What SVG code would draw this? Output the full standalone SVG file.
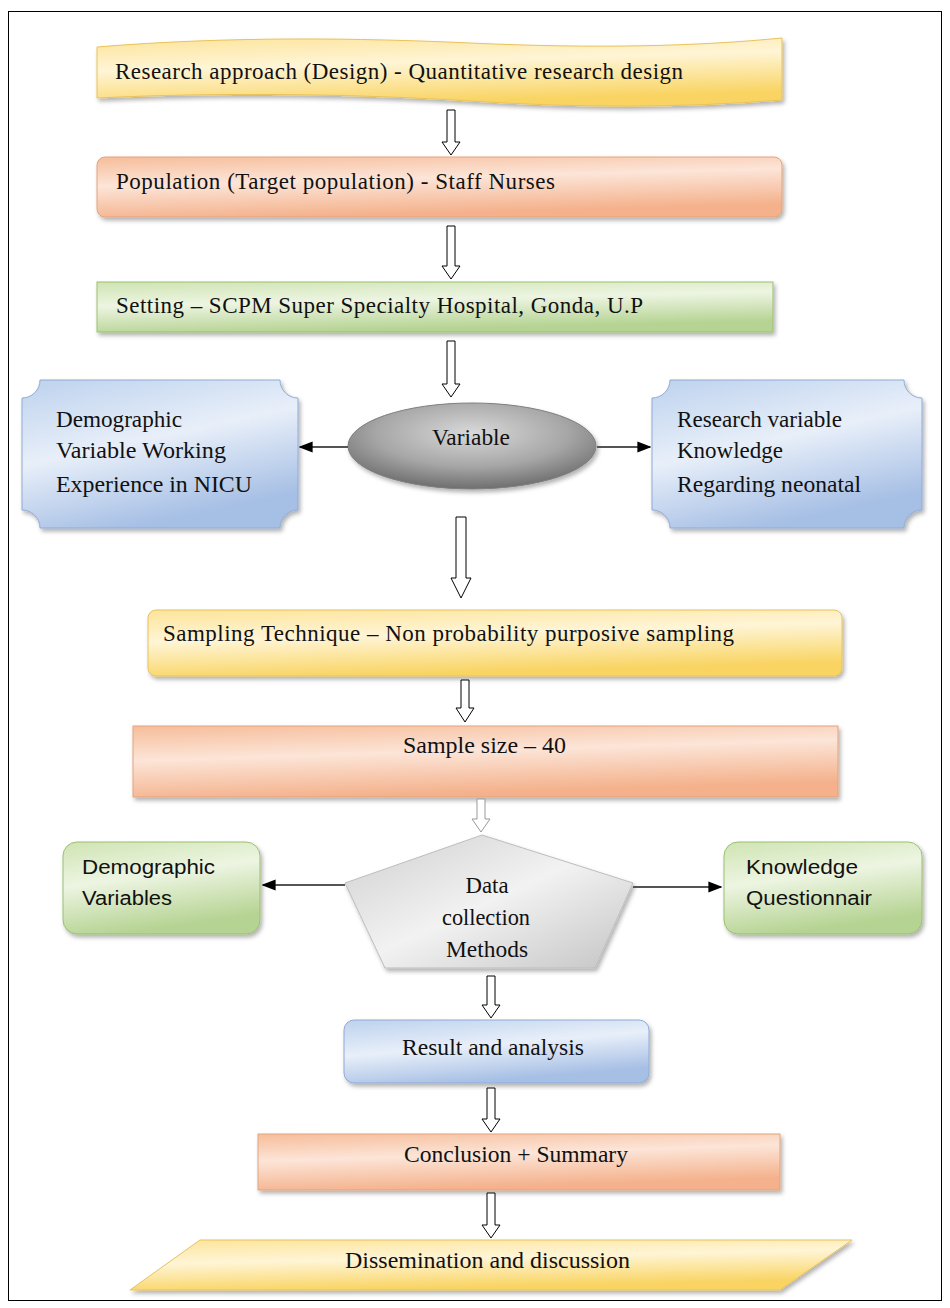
<svg xmlns="http://www.w3.org/2000/svg" width="950" height="1308" viewBox="0 0 950 1308">
<defs>
  <linearGradient id="gYel" x1="0" y1="0" x2="0.3" y2="1">
    <stop offset="0" stop-color="#fde49a"/>
    <stop offset="0.45" stop-color="#fff5d6"/>
    <stop offset="1" stop-color="#f9d462"/>
  </linearGradient>
  <linearGradient id="gOr" x1="0" y1="0" x2="0.3" y2="1">
    <stop offset="0" stop-color="#f6bd9a"/>
    <stop offset="0.45" stop-color="#fce5d8"/>
    <stop offset="1" stop-color="#f4b18b"/>
  </linearGradient>
  <linearGradient id="gGr" x1="0" y1="0" x2="0.3" y2="1">
    <stop offset="0" stop-color="#cfe4b3"/>
    <stop offset="0.45" stop-color="#edf5e2"/>
    <stop offset="1" stop-color="#b5d392"/>
  </linearGradient>
  <linearGradient id="gBl" x1="0" y1="0" x2="0.4" y2="1">
    <stop offset="0" stop-color="#bdd2ee"/>
    <stop offset="0.5" stop-color="#e8eff9"/>
    <stop offset="1" stop-color="#a6bfe5"/>
  </linearGradient>
  <radialGradient id="gEll" cx="0.5" cy="0.35" r="0.65">
    <stop offset="0" stop-color="#d9d9d9"/>
    <stop offset="0.6" stop-color="#a6a6a6"/>
    <stop offset="1" stop-color="#6e6e6e"/>
  </radialGradient>
  <linearGradient id="gPent" x1="0" y1="0" x2="1" y2="1">
    <stop offset="0" stop-color="#cfcfcf"/>
    <stop offset="0.5" stop-color="#f2f2f2"/>
    <stop offset="1" stop-color="#c4c4c4"/>
  </linearGradient>
  <filter id="sh" x="-10%" y="-20%" width="120%" height="150%">
    <feDropShadow dx="2" dy="3" stdDeviation="2" flood-color="#000" flood-opacity="0.3"/>
  </filter>
  <marker id="ah" viewBox="0 0 10 10" refX="9" refY="5" markerWidth="7" markerHeight="7" orient="auto">
    <path d="M0,1 L10,5 L0,9 Z" fill="#000"/>
  </marker>
</defs>
<style>
  .t { font-family: "Liberation Serif", "Times New Roman", serif; font-size: 23px; fill: #111; }
  .s { font-family: "Liberation Sans", Arial, sans-serif; font-size: 20px; fill: #111; }
  .blk { fill: #fff; stroke: #000; stroke-width: 1; }
  .blk2 { fill: #fff; stroke: #999; stroke-width: 1; }
  .ln { stroke: #555; stroke-width: 2; fill: none; marker-end: url(#ah); }
  .edge-gr { stroke: #9bbf6e; stroke-width: 1; }
  .edge-or { stroke: #e3a37c; stroke-width: 1; }
  .edge-ye { stroke: #e8c25a; stroke-width: 1; }
  .edge-bl { stroke: #8faad6; stroke-width: 1; }
</style>
<rect x="0" y="0" width="950" height="1308" fill="#fff"/>
<rect x="8.5" y="11.5" width="933" height="1289" fill="none" stroke="#000" stroke-width="1"/>

<g id="n1">
  <path d="M97,47 C230,36 360,38 470,43 C600,49 700,46 782,38 L782,100 C680,108 580,108 470,101 C360,94 220,92 97,98 Z" fill="url(#gYel)" class="edge-ye" filter="url(#sh)"/>
  <text class="t" x="115" y="79" textLength="568" lengthAdjust="spacing">Research approach (Design) - Quantitative research design</text>
</g>
<g id="n2">
  <rect x="97" y="157" width="685" height="60" rx="8" fill="url(#gOr)" class="edge-or" filter="url(#sh)"/>
  <text class="t" x="116" y="189" textLength="439" lengthAdjust="spacing">Population (Target population) - Staff Nurses</text>
</g>
<g id="n3">
  <rect x="97" y="282" width="676" height="50" fill="url(#gGr)" class="edge-gr" filter="url(#sh)"/>
  <text class="t" x="116" y="313" textLength="527" lengthAdjust="spacing">Setting – SCPM Super Specialty Hospital, Gonda, U.P</text>
</g>
<g id="n4">
  <ellipse cx="472" cy="446" rx="124" ry="43" fill="url(#gEll)" stroke="#7f7f7f" stroke-width="1" filter="url(#sh)"/>
  <text class="t" x="471" y="445" text-anchor="middle" textLength="78" lengthAdjust="spacingAndGlyphs">Variable</text>
</g>
<g id="n5">
  <path d="M40,380 H280 A18,18 0 0 0 298,398 V510 A18,18 0 0 0 280,528 H40 A18,18 0 0 0 22,510 V398 A18,18 0 0 0 40,380 Z" fill="url(#gBl)" class="edge-bl" filter="url(#sh)"/>
  <text class="t" x="56" y="427" textLength="126" lengthAdjust="spacingAndGlyphs">Demographic</text>
  <text class="t" x="56" y="458" textLength="170" lengthAdjust="spacingAndGlyphs">Variable Working</text>
  <text class="t" x="56" y="492" textLength="196" lengthAdjust="spacingAndGlyphs">Experience in NICU</text>
</g>
<g id="n6">
  <path d="M670,380 H904 A18,18 0 0 0 922,398 V510 A18,18 0 0 0 904,528 H670 A18,18 0 0 0 652,510 V398 A18,18 0 0 0 670,380 Z" fill="url(#gBl)" class="edge-bl" filter="url(#sh)"/>
  <text class="t" x="677" y="427" textLength="165" lengthAdjust="spacingAndGlyphs">Research variable</text>
  <text class="t" x="677" y="458" textLength="106" lengthAdjust="spacingAndGlyphs">Knowledge</text>
  <text class="t" x="677" y="492" textLength="184" lengthAdjust="spacingAndGlyphs">Regarding neonatal</text>
</g>
<g id="n7">
  <rect x="148" y="610" width="694" height="66" rx="8" fill="url(#gYel)" class="edge-ye" filter="url(#sh)"/>
  <text class="t" x="163" y="641" textLength="571" lengthAdjust="spacing">Sampling Technique – Non probability purposive sampling</text>
</g>
<g id="n8">
  <rect x="133" y="726" width="705" height="71" fill="url(#gOr)" class="edge-or" filter="url(#sh)"/>
  <text class="t" x="403" y="753" textLength="163" lengthAdjust="spacingAndGlyphs">Sample size – 40</text>
</g>
<g id="n9">
  <polygon points="482,835 633,883 595,968 385,968 345,883" fill="url(#gPent)" stroke="#bdbdbd" stroke-width="1" filter="url(#sh)"/>
  <text class="t" x="487" y="893" text-anchor="middle" textLength="43" lengthAdjust="spacingAndGlyphs">Data</text>
  <text class="t" x="486" y="925" text-anchor="middle" textLength="88" lengthAdjust="spacingAndGlyphs">collection</text>
  <text class="t" x="487" y="957" text-anchor="middle" textLength="82" lengthAdjust="spacingAndGlyphs">Methods</text>
</g>
<g id="n10">
  <rect x="63" y="842" width="197" height="92" rx="14" fill="url(#gGr)" class="edge-gr" filter="url(#sh)"/>
  <text class="s" x="82" y="874" textLength="133" lengthAdjust="spacingAndGlyphs">Demographic</text>
  <text class="s" x="82" y="905" textLength="90" lengthAdjust="spacingAndGlyphs">Variables</text>
</g>
<g id="n11">
  <rect x="724" y="842" width="198" height="92" rx="14" fill="url(#gGr)" class="edge-gr" filter="url(#sh)"/>
  <text class="s" x="746" y="874" textLength="112" lengthAdjust="spacingAndGlyphs">Knowledge</text>
  <text class="s" x="746" y="905" textLength="126" lengthAdjust="spacingAndGlyphs">Questionnair</text>
</g>
<g id="n12">
  <rect x="344" y="1020" width="305" height="63" rx="10" fill="url(#gBl)" class="edge-bl" filter="url(#sh)"/>
  <text class="t" x="402" y="1055" textLength="182" lengthAdjust="spacingAndGlyphs">Result and analysis</text>
</g>
<g id="n13">
  <rect x="258" y="1134" width="522" height="56" fill="url(#gOr)" class="edge-or" filter="url(#sh)"/>
  <text class="t" x="404" y="1162" textLength="224" lengthAdjust="spacingAndGlyphs">Conclusion + Summary</text>
</g>
<g id="n14">
  <polygon points="200,1240 852,1240 780,1290 130,1290" fill="url(#gYel)" class="edge-ye" filter="url(#sh)"/>
  <text class="t" x="345" y="1268" textLength="285" lengthAdjust="spacingAndGlyphs">Dissemination and discussion</text>
</g>

<g id="connectors">
  <path class="blk" d="M447,110 H455 V142 H460 L451,155 L442,142 H447 Z"/>
  <path class="blk" d="M447,226 H455 V266 H460 L451,279 L442,266 H447 Z"/>
  <path class="blk" d="M447,341 H455 V384 H460 L451,397 L442,384 H447 Z"/>
  <path class="blk" d="M456,517 H466 V578 H471 L461,598 L451,578 H456 Z"/>
  <path class="blk" d="M461,680 H469 V708 H474 L465,722 L456,708 H461 Z"/>
  <path class="blk2" d="M477,799 H485 V819 H490 L481,832 L472,819 H477 Z"/>
  <path class="blk" d="M487,976 H495 V1005 H500 L491,1018 L482,1005 H487 Z"/>
  <path class="blk" d="M487,1088 H495 V1119 H500 L491,1132 L482,1119 H487 Z"/>
  <path class="blk" d="M487,1193 H495 V1225 H500 L491,1238 L482,1225 H487 Z"/>
  <line class="ln" x1="348" y1="447" x2="300" y2="447"/>
  <line class="ln" x1="597" y1="447" x2="650" y2="447"/>
  <line class="ln" x1="345" y1="885" x2="263" y2="885"/>
  <line class="ln" x1="633" y1="887" x2="721" y2="887"/>
</g>
</svg>
